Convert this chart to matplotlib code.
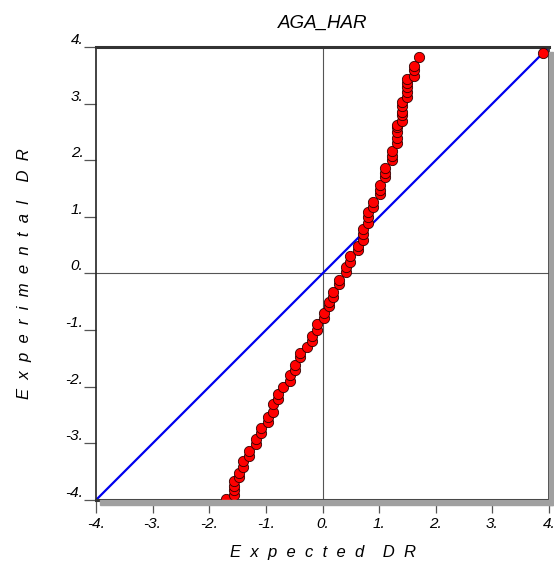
import matplotlib
matplotlib.use("Agg")
import matplotlib.pyplot as plt
from matplotlib.patches import Rectangle

# 正态概率图数据 (expected vs experimental)
expected = [-1.70, -1.57, -1.57, -1.57, -1.57, -1.48, -1.48, -1.41, -1.40, -1.29,
            -1.29, -1.18, -1.17, -1.08, -1.08, -0.97, -0.97, -0.88, -0.88, -0.78,
            -0.78, -0.69, -0.58, -0.58, -0.49, -0.49, -0.39, -0.39, -0.28, -0.18,
            -0.18, -0.09, -0.09, 0.02, 0.02, 0.11, 0.11, 0.19, 0.19, 0.30,
            0.30, 0.41, 0.41, 0.49, 0.49, 0.62, 0.62, 0.71, 0.71, 0.71,
            0.81, 0.81, 0.81, 0.90, 0.90, 1.01, 1.01, 1.01, 1.11, 1.11,
            1.11, 1.22, 1.22, 1.22, 1.31, 1.31, 1.31, 1.31, 1.31, 1.41,
            1.41, 1.41, 1.41, 1.41, 1.50, 1.50, 1.50, 1.50, 1.50, 1.61,
            1.61, 1.61, 1.71]
experimental = [-3.99, -3.92, -3.83, -3.75, -3.67, -3.60, -3.52, -3.41, -3.32, -3.22,
                -3.13, -3.02, -2.92, -2.81, -2.72, -2.63, -2.53, -2.44, -2.31, -2.21,
                -2.12, -2.01, -1.89, -1.80, -1.71, -1.61, -1.48, -1.41, -1.29, -1.20,
                -1.11, -0.99, -0.90, -0.78, -0.69, -0.58, -0.51, -0.41, -0.32, -0.19,
                -0.11, 0.02, 0.11, 0.21, 0.30, 0.42, 0.49, 0.60, 0.69, 0.78,
                0.90, 0.99, 1.08, 1.18, 1.27, 1.40, 1.48, 1.57, 1.70, 1.78,
                1.87, 2.00, 2.08, 2.17, 2.30, 2.40, 2.49, 2.58, 2.63, 2.69,
                2.79, 2.86, 2.95, 3.02, 3.11, 3.20, 3.29, 3.37, 3.43, 3.48,
                3.59, 3.67, 3.82]
outlier_x = [3.90]
outlier_y = [3.90]
ticks = [-4, -3, -2, -1, 0, 1, 2, 3, 4]
tick_labels = ['%d.' % t for t in ticks]

plt.rcParams['font.family'] = ['Liberation Sans', 'DejaVu Sans']

fig = plt.figure(figsize=(5.54, 5.64), dpi=100)
ax = fig.add_axes([0.1733, 0.1135, 0.8177, 0.8032])

# 阴影
fig.patches.append(Rectangle((0.1733 + 0.008, 0.1135 - 0.009), 0.8177, 0.009,
                             transform=fig.transFigure, color='#a0a0a0', zorder=0))
fig.patches.append(Rectangle((0.1733 + 0.8177, 0.1135 - 0.009), 0.008, 0.8032,
                             transform=fig.transFigure, color='#a0a0a0', zorder=0))

ax.axhline(0, color='#555555', lw=0.8, zorder=1)
ax.axvline(0, color='#555555', lw=0.8, zorder=1)
ax.plot([-4, 4], [-4, 4], color='#0000ee', lw=1.6, zorder=2)
ax.plot(expected, experimental, 'o', color='red', markeredgecolor='#300000',
        markeredgewidth=0.6, markersize=7.4, zorder=3, clip_on=False)
ax.plot(outlier_x, outlier_y, 'o', color='red', markeredgecolor='#300000',
        markeredgewidth=0.6, markersize=7.4, zorder=3, clip_on=False)

ax.set_xlim(-4, 4)
ax.set_ylim(-4, 4)
ax.set_xticks(ticks)
ax.set_yticks(ticks)
ax.set_xticklabels(tick_labels, fontstyle='italic', fontsize=11)
ax.set_yticklabels(tick_labels, fontstyle='italic', fontsize=11)
for lab in ax.get_yticklabels():
    lab.set_va('bottom')
ax.tick_params(axis='both', direction='out', length=9, width=0.9, color='#555555', pad=0)
ax.tick_params(axis='x', pad=3)

ax.spines['top'].set_linewidth(2.2)
ax.spines['top'].set_color('#333333')
ax.spines['bottom'].set_linewidth(2.2)
ax.spines['bottom'].set_color('#333333')
ax.spines['left'].set_linewidth(1.2)
ax.spines['left'].set_color('#222222')
ax.spines['right'].set_linewidth(1.2)
ax.spines['right'].set_color('#222222')

ax.set_title('AGA_HAR', fontstyle='italic', fontsize=13.5, pad=14)
ax.set_xlabel('E  x  p  e  c  t  e  d    D  R', fontstyle='italic', fontsize=12, labelpad=10)
ax.set_ylabel('E  x  p  e  r  i  m  e  n  t  a  l    D  R', fontstyle='italic', fontsize=12,
              labelpad=24)

fig.savefig('out.png', dpi=100)
